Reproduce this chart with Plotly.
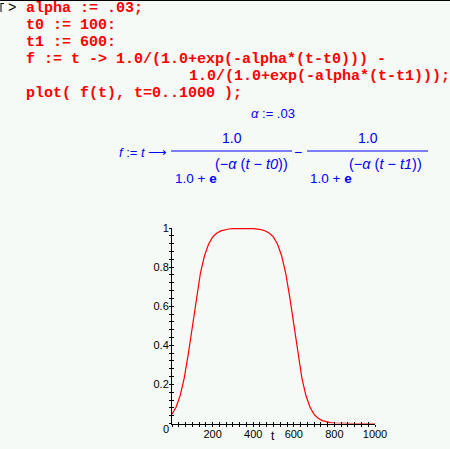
import plotly.graph_objects as go

# ---- data ----
t_vals = [0, 20, 40, 60, 80, 100, 120, 140, 160, 180, 200, 220, 240, 260, 280, 300,
          320, 340, 360, 380, 400, 420, 440, 460, 480, 500, 520, 540, 560, 580, 600,
          620, 640, 660, 680, 700, 720, 740, 760, 780, 800, 820, 840, 860, 880, 900,
          920, 940, 960, 980, 1000]
f_vals = [0.047, 0.083, 0.142, 0.231, 0.354, 0.5, 0.646, 0.769, 0.858, 0.917, 0.953,
          0.973, 0.985, 0.992, 0.995, 0.997, 0.998, 0.999, 0.999, 0.998, 0.997, 0.995,
          0.992, 0.985, 0.973, 0.953, 0.917, 0.858, 0.769, 0.646, 0.5, 0.354, 0.231,
          0.142, 0.083, 0.047, 0.027, 0.015, 0.008, 0.0045, 0.0025, 0.0014, 0.0007,
          0.0004, 0.0002, 0.0001, 0.0001, 0.0, 0.0, 0.0, 0.0]

x_tick_vals = [i * 200 / 6 for i in range(31)]
x_tick_text = [str(int(round(v))) if (i % 6 == 0 and i > 0) else "" for i, v in enumerate(x_tick_vals)]
y_tick_vals = [i * 0.04 for i in range(26)]
y_major = {5: "0.2", 10: "0.4", 15: "0.6", 20: "0.8", 25: "1"}
y_tick_text = [y_major.get(i, "") for i in range(26)]

code_lines = [
    "alpha := .03;",
    "t0 := 100:",
    "t1 := 600:",
    "f := t -> 1.0/(1.0+exp(-alpha*(t-t0))) -",
    "1.0/(1.0+exp(-alpha*(t-t1)));",
    "plot( f(t), t=0..1000 );",
]

W, H = 450, 449
BG = "#f5faf6"


def px(x):
    return x / W


def py(y):
    return 1 - y / H


fig = go.Figure()
fig.add_trace(go.Scatter(x=t_vals, y=f_vals, mode="lines",
                         line=dict(color="#ff0000", width=1.2), xaxis="x", yaxis="y",
                         showlegend=False, hoverinfo="skip"))

tickfont = dict(family="Liberation Sans, Arial, sans-serif", size=11, color="black")
xdom = [px(172), px(375)]
ydom = [py(423.5), py(228)]

common = dict(showgrid=False, zeroline=False, automargin=False, fixedrange=True,
              ticklen=2, tickcolor="black", tickwidth=1, tickmode="array")

fig.update_layout(
    width=W, height=H, margin=dict(l=0, r=0, t=0, b=0, pad=0, autoexpand=False),
    paper_bgcolor=BG, plot_bgcolor=BG, showlegend=False,
    xaxis=dict(domain=xdom, range=[0, 1000], showline=True, linecolor="black", linewidth=1,
               tickvals=x_tick_vals, ticktext=x_tick_text, ticks="inside",
               tickfont=tickfont, anchor="y", **common),
    yaxis=dict(domain=ydom, range=[0, 1.0], showline=True, linecolor="black", linewidth=1,
               tickvals=y_tick_vals, ticktext=y_tick_text, ticks="inside",
               tickfont=tickfont, anchor="x", **common),
    xaxis2=dict(domain=xdom, range=[0, 1000], overlaying="x", anchor="y", side="bottom",
                showline=False, tickvals=x_tick_vals, showticklabels=False, ticks="outside",
                **common),
    yaxis2=dict(domain=ydom, range=[0, 1.0], overlaying="y", anchor="x", side="left",
                showline=False, tickvals=y_tick_vals, showticklabels=False, ticks="outside",
                **common),
)
fig.add_trace(go.Scatter(x=[None], y=[None], xaxis="x2", yaxis="y2", showlegend=False))

ann = []
mono = dict(family="Liberation Mono, Courier New, monospace", size=15, color="#ff0000")
line_y = [8.5, 25.5, 42, 59, 76, 93]
line_x = [24, 24, 24, 24, 187, 24]
for txt, yy, xx in zip(code_lines, line_y, line_x):
    ann.append(dict(text="<b>" + txt + "</b>", x=px(xx), y=py(yy), xref="paper", yref="paper",
                    xanchor="left", yanchor="middle", showarrow=False, font=mono))
ann.append(dict(text=">", x=px(6), y=py(8), xref="paper", yref="paper", xanchor="left",
                yanchor="middle", showarrow=False,
                font=dict(family="Liberation Mono, monospace", size=14, color="black")))

mfont = dict(family="Liberation Sans, Arial, sans-serif", size=13, color="#0000ff")


def m(text, x, y, anchor="center", size=13):
    f = dict(mfont)
    f["size"] = size
    ann.append(dict(text=text, x=px(x), y=py(y), xref="paper", yref="paper", xanchor=anchor,
                    yanchor="middle", showarrow=False, font=f))


m("<i>α</i> := .03", 273, 114)
m("<i>f</i> := <i>t</i> ⟶", 117, 153, "left")
m("1.0", 232, 138, size=14)
m("1.0 + <b>e</b>", 173, 178, "left", size=13.5)
m("(−<i>α</i> (<i>t</i> − <i>t0</i>))", 213, 164, "left", size=14.5)
m("−", 298, 152, size=14)
m("1.0", 368, 138, size=14)
m("1.0 + <b>e</b>", 308, 178, "left", size=13.5)
m("(−<i>α</i> (<i>t</i> − <i>t1</i>))", 347, 164, "left", size=14.5)

ann.append(dict(text="0", x=px(166), y=py(429), xref="paper", yref="paper", xanchor="center",
                yanchor="middle", showarrow=False, font=tickfont))
ann.append(dict(text="t", x=px(273), y=py(436), xref="paper", yref="paper", xanchor="center",
                yanchor="middle", showarrow=False, font=dict(tickfont, size=12)))
fig.update_layout(annotations=ann)

shapes = [
    dict(type="line", xref="paper", yref="paper", x0=px(171), x1=px(292), y0=py(151), y1=py(151),
         line=dict(color="#0000ff", width=1)),
    dict(type="line", xref="paper", yref="paper", x0=px(307), x1=px(428), y0=py(151), y1=py(151),
         line=dict(color="#0000ff", width=1)),
    dict(type="line", xref="paper", yref="paper", x0=0, x1=1, y0=py(0.5), y1=py(0.5),
         line=dict(color="black", width=1)),
    dict(type="line", xref="paper", yref="paper", x0=px(1), x1=px(1), y0=py(3), y1=py(12),
         line=dict(color="black", width=1)),
    dict(type="line", xref="paper", yref="paper", x0=px(1), x1=px(4), y0=py(3.5), y1=py(3.5),
         line=dict(color="black", width=1)),
]
fig.update_layout(shapes=shapes)

post = (
    "document.documentElement.style.overflow='hidden';"
    "document.body.style.margin='0';"
    "document.body.style.overflow='hidden';"
    "document.body.style.background='" + BG + "';"
)
fig.write_html("out.html", config={"displayModeBar": False, "staticPlot": True},
               post_script=post)
